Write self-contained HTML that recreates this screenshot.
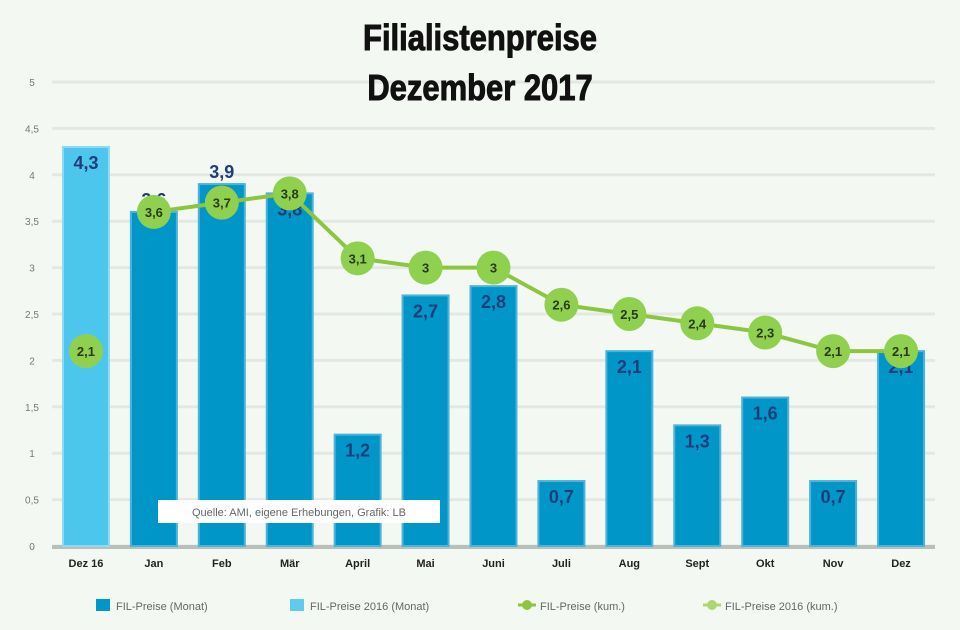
<!DOCTYPE html>
<html><head><meta charset="utf-8"><style>
body{margin:0;background:#f4f8f2;}
svg{display:block;font-family:"Liberation Sans",sans-serif;}
</style></head><body>
<svg id="c" width="960" height="630">
<rect width="960" height="630" fill="#f4f8f2"/>
<g id="grid"></g>
<g transform="translate(480,0) scale(0.86,1)">
<text x="0" y="50" text-anchor="middle" font-size="36" font-weight="bold" fill="#111" stroke="#111" stroke-width="1">Filialistenpreise</text>
<text x="0" y="100" text-anchor="middle" font-size="36" font-weight="bold" fill="#111" stroke="#111" stroke-width="1">Dezember 2017</text>
</g>
<g id="bars"></g><g id="lines"></g>
<rect x="158" y="500" width="282" height="23" fill="#fff"/>
<text x="299" y="516" text-anchor="middle" font-size="11" fill="#666">Quelle: AMI, eigene Erhebungen, Grafik: LB</text>
<g id="legend"></g>
</svg>
<script>
const categories=["Dez 16","Jan","Feb","Mär","April","Mai","Juni","Juli","Aug","Sept","Okt","Nov","Dez"];
const monthly=[null,3.6,3.9,3.8,1.2,2.7,2.8,0.7,2.1,1.3,1.6,0.7,2.1];
const monthly2016=[4.3,null,null,null,null,null,null,null,null,null,null,null,null];
const cumulative=[null,3.6,3.7,3.8,3.1,3.0,3.0,2.6,2.5,2.4,2.3,2.1,2.1];
const cumulative2016=[2.1,null,null,null,null,null,null,null,null,null,null,null,null];
const yTicks=[0,0.5,1,1.5,2,2.5,3,3.5,4,4.5,5];
const yTickLabels=["0","0,5","1","1,5","2","2,5","3","3,5","4","4,5","5"];
const labelAbove=[false,true,true,false,false,false,false,false,false,false,false,false,false];
const NS="http://www.w3.org/2000/svg";
const x0=52,x1=935,yb=546,yt=82;
const y=v=>yb-(v/5)*(yb-yt);
const step=(x1-x0)/categories.length;
const cx=i=>x0+step*(i+0.5);
const fmt=v=>Number.isInteger(v)?String(v):String(v).replace('.',',');
function mk(t,a,p){const e=document.createElementNS(NS,t);for(const k in a)e.setAttribute(k,a[k]);p.appendChild(e);return e;}
const G=document.getElementById('grid'),B=document.getElementById('bars'),L=document.getElementById('lines'),LG=document.getElementById('legend');
yTicks.forEach((v,i)=>{
 const l=mk('line',{x1:x0,x2:x1,y1:y(v),y2:y(v),stroke:'#e4e8e2','stroke-width':3},G);
 
 
 const t=mk('text',{x:32,y:y(v)+4,'text-anchor':'middle','font-size':10,fill:'#777'},G);t.textContent=yTickLabels[i];
 
 
});
const ax=mk('line',{x1:x0,x2:x1,y1:yb+1,y2:yb+1,stroke:'#b9bfbb','stroke-width':4},G);


categories.forEach((c,i)=>{
 const t=mk('text',{x:cx(i),y:567,'text-anchor':'middle','font-size':11,'font-weight':'bold',fill:'#222'},G);t.textContent=c;
 
 
});
const bw=46;
function bars(arr,col,edge,name){arr.forEach((v,i)=>{if(v==null)return;
 const r=mk('rect',{x:cx(i)-bw/2,y:y(v),width:bw,height:yb-y(v),fill:col,stroke:edge,'stroke-width':2},B);
 
 
 const above=labelAbove[i];
 const t=mk('text',{x:cx(i),y:above?y(v)-6:y(v)+22,'text-anchor':'middle','font-size':18,'font-weight':'bold',fill:'#1f3d7a'},B);t.textContent=fmt(v);
 
 
});}
bars(monthly,'#0096c8','#4fb3d9','bar-monthly');
bars(monthly2016,'#4dc6ee','#8fdaf3','bar-monthly-2016');
function line(arr,name){let d='';arr.forEach((v,i)=>{if(v==null)return;d+=(d?'L':'M')+cx(i)+' '+y(v);});
 if(d.indexOf('L')>0){const p=mk('path',{d:d,fill:'none',stroke:'#8cc63f','stroke-width':4},L);
 
 }
 arr.forEach((v,i)=>{if(v==null)return;
  const c=mk('circle',{cx:cx(i),cy:y(v),r:17,fill:'#8fd14f'},L);
  
  
  const t=mk('text',{x:cx(i),y:y(v)+5,'text-anchor':'middle','font-size':13,'font-weight':'bold',fill:'#2a3a1a'},L);t.textContent=fmt(v);
  
  
 });}
line(cumulative,'cumulative');
line(cumulative2016,'cumulative-2016');
const leg=[["FIL-Preise (Monat)",'#0096c8','rect',96],["FIL-Preise 2016 (Monat)",'#5fcbf0','rect',290],["FIL-Preise (kum.)",'#8cc63f','line',520],["FIL-Preise 2016 (kum.)",'#a8d86e','line',705]];
leg.forEach(l=>{
 const g=mk('g',{},LG);
 
 
 if(l[2]==='rect')mk('rect',{x:l[3],y:599,width:14,height:12,fill:l[1]},g);
 else{mk('line',{x1:l[3]-2,x2:l[3]+16,y1:605,y2:605,stroke:l[1],'stroke-width':3},g);mk('circle',{cx:l[3]+7,cy:605,r:5,fill:l[1]},g);}
 const t=mk('text',{x:l[3]+20,y:610,'font-size':11,fill:'#666'},g);t.textContent=l[0];
});
</script>
</body></html>
